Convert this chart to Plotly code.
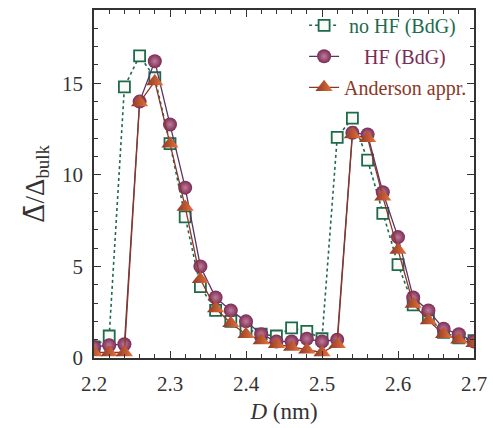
import plotly.graph_objects as go

D = [2.20, 2.22, 2.24, 2.26, 2.28, 2.30, 2.32, 2.34, 2.36, 2.38, 2.40, 2.42, 2.44,
     2.46, 2.48, 2.50, 2.52, 2.54, 2.56, 2.58, 2.60, 2.62, 2.64, 2.66, 2.68, 2.70]

no_hf = [0.6, 1.2, 14.8, 16.5, 15.3, 11.7, 7.7, 3.9, 2.6, 2.0, 1.6, 1.3, 1.2,
         1.65, 1.45, 1.05, 12.05, 13.1, 10.8, 7.9, 5.1, 2.9, 2.2, 1.4, 1.1, 0.95]

hf = [0.6, 0.7, 0.75, 14.0, 16.2, 12.75, 9.3, 5.0, 3.3, 2.6, 2.0, 1.3, 0.9,
      0.9, 1.05, 0.9, 1.0, 12.3, 12.2, 9.05, 6.6, 3.3, 2.6, 1.6, 1.3, 0.9]

anderson = [0.3, 0.3, 0.3, 13.95, 15.1, 11.7, 8.25, 4.3, 2.7, 1.9, 1.3, 0.95, 0.75,
            0.6, 0.45, 0.3, 0.75, 12.2, 12.0, 8.8, 5.9, 2.95, 2.05, 1.3, 1.0, 0.8]

names = ["no HF (BdG)", "HF (BdG)", "Anderson appr."]

GREEN = "#1d6a4d"
PURPLE = "#7b2c55"
PLINE = "#5a3464"
BROWN = "#8a3828"
ORANGE = "#ea7438"
SERIF = '"Liberation Serif", "Times New Roman", Times, serif'
AX = "#333333"

fig = go.Figure()

fig.add_trace(go.Scatter(
    x=D, y=no_hf, mode="lines+markers", legendgroup="a",
    name='<span style="color:%s">%s</span>' % (GREEN, "\u00a0" + names[0]),
    line=dict(color=GREEN, width=1.6, dash="dot"),
    marker=dict(symbol="square", size=11, color="#fafaf6",
                line=dict(color=GREEN, width=1.8)),
))
fig.add_trace(go.Scatter(
    x=D, y=hf, mode="lines+markers", legendgroup="b",
    name='<span style="color:%s">%s</span>' % (PURPLE, "\u00a0\u00a0\u00a0\u00a0" + names[1]),
    line=dict(color=PLINE, width=1.3),
    marker=dict(symbol="circle", size=14, color=PURPLE,
                gradient=dict(type="radial", color="#bf7c99"),
                line=dict(width=0)),
))
fig.add_trace(go.Scatter(
    x=D, y=anderson, mode="lines+markers", legendgroup="c",
    name='<span style="color:%s">%s</span>' % (BROWN, names[2]),
    line=dict(color=BROWN, width=1.3),
    marker=dict(symbol="triangle-up", size=15, color=BROWN,
                gradient=dict(type="horizontal", color=ORANGE),
                line=dict(width=0)),
))

axis_common = dict(
    showline=True, linecolor=AX, linewidth=1.5, mirror="allticks",
    ticks="inside", ticklen=7, tickwidth=1.2, tickcolor=AX,
    showgrid=False, zeroline=False,
    tickfont=dict(family=SERIF, size=21, color=AX),
)

fig.update_xaxes(
    range=[2.2, 2.7], dtick=0.1, tick0=2.2, tickformat=".1f",
    minor=dict(ticks="inside", dtick=0.02, ticklen=4, tickcolor=AX, tickwidth=1),
    title=dict(text="<i>D</i> (nm)", font=dict(family=SERIF, size=23, color=AX),
               standoff=8),
    ticklabelstandoff=6,
    **axis_common,
)
fig.update_yaxes(
    range=[0, 19], dtick=5, tick0=0,
    minor=dict(ticks="inside", dtick=1, ticklen=4, tickcolor=AX, tickwidth=1),
    title=dict(text='<span style="font-family:DejaVu Serif">\u0394\u0304</span>/\u0394<sub>bulk</sub>',
               font=dict(family=SERIF, size=27, color=AX),
               standoff=10),
    ticklabelstandoff=5,
    **axis_common,
)

fig.update_layout(
    width=493, height=428,
    margin=dict(l=94, r=15, t=6, b=70),
    font=dict(family=SERIF, color=AX),
    paper_bgcolor="white", plot_bgcolor="white",
    showlegend=True,
    legend=dict(x=0.995, y=1.012, xanchor="right", yanchor="top",
                bgcolor="rgba(0,0,0,0)", tracegroupgap=2, traceorder="grouped",
                font=dict(family=SERIF, size=20)),
)

fig.write_html("out.html", config={"displayModeBar": False},
               post_script="document.body.style.margin='0';")
